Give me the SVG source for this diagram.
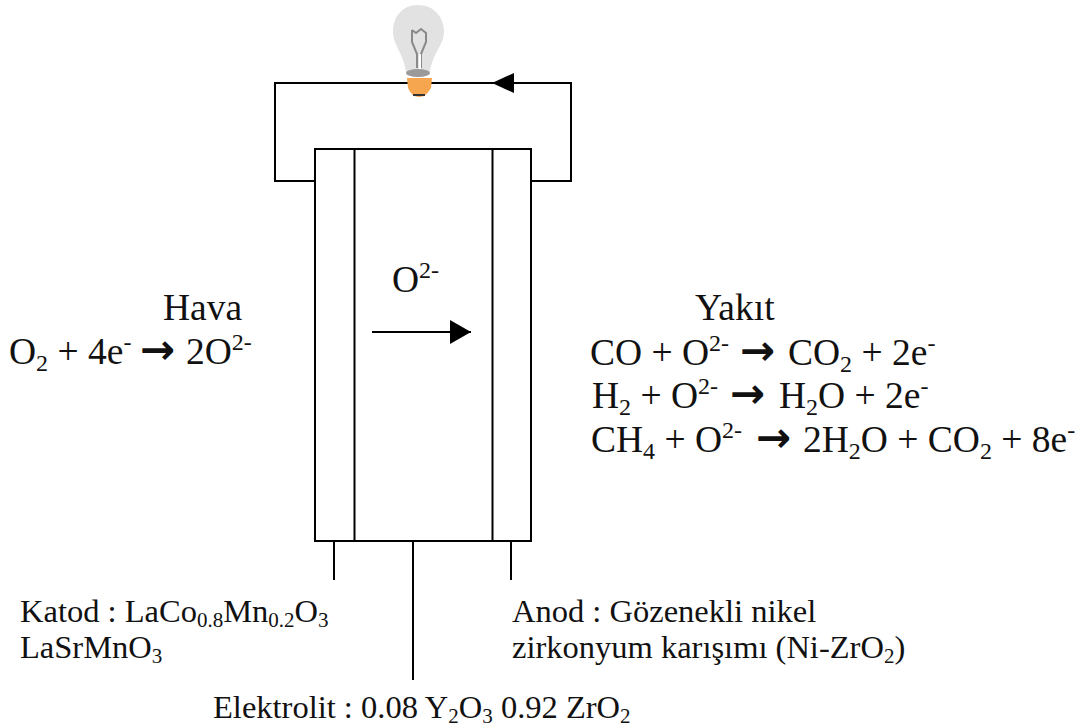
<svg xmlns="http://www.w3.org/2000/svg" width="1088" height="726" viewBox="0 0 1088 726">
<style>
text{font-family:"Liberation Serif","Times New Roman",serif;fill:#111;white-space:pre}
.l{font-size:37.5px}
.s{font-size:32.500px}
.arr{font-family:"DejaVu Sans",sans-serif;font-size:42px;font-weight:bold}
.w{fill:none;stroke:#000;stroke-width:2}
</style>
<defs>
<marker id="ah" markerUnits="userSpaceOnUse" markerWidth="22" markerHeight="24" refX="21" refY="12" orient="auto"><path d="M0 0L21 12L0 24Z" fill="#000"/></marker>
</defs>
<rect width="1088" height="726" fill="#fff"/>
<g id="connectors">
<path class="w" d="M315 181H275V83H571V181H531"/>
<path d="M492 83L514 73V93Z" fill="#000"/>
<path class="w" d="M372 332H471" marker-end="url(#ah)"/>
<path class="w" d="M334 541V580M413 541V680M511 541V580"/>
</g>
<g id="cell">
<rect class="w" x="315" y="149" width="216" height="392"/>
<path class="w" d="M354.500 149V541M492.500 149V541"/>
</g>
<g id="bulb">
<path d="M418 5C402 5 393 17 393 32C393 45 404 54 406 72H430C432 54 444 45 444 32C444 17 434 5 418 5Z" fill="#e2e2e2"/>
<path d="M412 30L416 33L421 29L426 33V42L421 54V68M412 30V42L417 54V68" fill="none" stroke="#8a8a8a" stroke-width="2"/>
<path d="M420 54V70" stroke="#fff" stroke-width="2"/>
<ellipse cx="418" cy="73" rx="12" ry="4" fill="#9a9a9a"/>
<path d="M407 78H432L431 88Q426 97 419 97Q412 97 408 88Z" fill="#f7a650"/>
<path d="M413 95H425" stroke="#333" stroke-width="2"/>
</g>
<g id="hava">
<text class="l" x="163" y="320">Hava</text>
<text class="l" x="9" y="364">O<tspan font-size="24" dy="7">2</tspan><tspan dy="-7"> + 4e</tspan><tspan font-size="24" dy="-14">-</tspan></text>
<text class="arr" x="140" y="364">→</text>
<text class="l" x="186" y="364">2O<tspan font-size="24" dy="-14">2-</tspan></text>
</g>
<g id="oxide"><text class="l" x="392" y="292">O<tspan font-size="24" dy="-14">2-</tspan></text></g>
<g id="yakit">
<text class="l" x="695" y="320">Yakıt</text>
<text class="l" x="590" y="365">CO + O<tspan font-size="24" dy="-14">2-</tspan></text>
<text class="arr" x="740" y="365">→</text>
<text class="l" x="788" y="365">CO<tspan font-size="24" dy="7">2</tspan><tspan dy="-7"> + 2e</tspan><tspan font-size="24" dy="-14">-</tspan></text>
<text class="l" x="592" y="408">H<tspan font-size="24" dy="7">2</tspan><tspan dy="-7"> + O</tspan><tspan font-size="24" dy="-14">2-</tspan></text>
<text class="arr" x="730" y="408">→</text>
<text class="l" x="779" y="408">H<tspan font-size="24" dy="7">2</tspan><tspan dy="-7">O + 2e</tspan><tspan font-size="24" dy="-14">-</tspan></text>
<text class="l" x="591" y="452">CH<tspan font-size="24" dy="7">4</tspan><tspan dy="-7"> + O</tspan><tspan font-size="24" dy="-14">2-</tspan></text>
<text class="arr" x="756" y="452">→</text>
<text class="l" x="803" y="452">2H<tspan font-size="24" dy="7">2</tspan><tspan dy="-7">O + CO</tspan><tspan font-size="24" dy="7">2</tspan><tspan dy="-7"> + 8e</tspan><tspan font-size="24" dy="-14">-</tspan></text>
</g>
<g id="katod">
<text class="s" x="20" y="622">Katod : LaCo<tspan font-size="21" dy="5">0.8</tspan><tspan dy="-5">Mn</tspan><tspan font-size="21" dy="5">0.2</tspan><tspan dy="-5">O</tspan><tspan font-size="21" dy="5">3</tspan></text>
<text class="s" x="20" y="658">LaSrMnO<tspan font-size="21" dy="5">3</tspan></text>
</g>
<g id="anod">
<text class="s" x="512" y="622">Anod : Gözenekli nikel</text>
<text class="s" x="512" y="658">zirkonyum karışımı (Ni-ZrO<tspan font-size="21" dy="5">2</tspan><tspan dy="-5">)</tspan></text>
</g>
<g id="elektrolit">
<text class="s" x="213" y="718">Elektrolit : 0.08 Y<tspan font-size="21" dy="5">2</tspan><tspan dy="-5">O</tspan><tspan font-size="21" dy="5">3</tspan><tspan dy="-5"> 0.92 ZrO</tspan><tspan font-size="21" dy="5">2</tspan></text>
</g>
</svg>
